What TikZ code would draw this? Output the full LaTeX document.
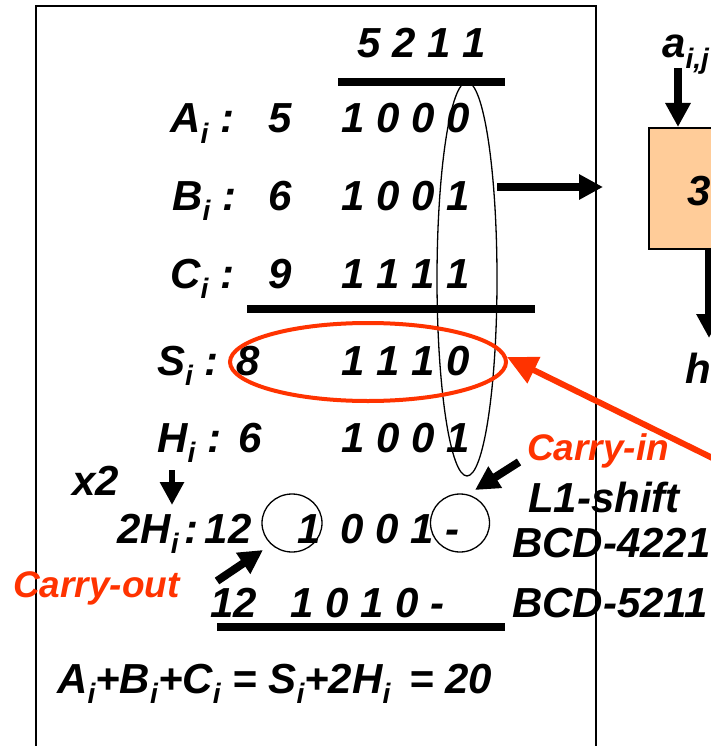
\documentclass[tikz,border=0pt]{standalone}
\usepackage{fontspec}
\setmainfont{Liberation Sans}
\usetikzlibrary{arrows.meta,shapes.geometric}
\definecolor{redo}{RGB}{255,51,0}
\definecolor{peach}{RGB}{255,204,153}
\newcommand\subs[1]{\raisebox{-0.24em}{\scalebox{0.67}{#1}}}
\begin{document}
\begin{tikzpicture}[x=1pt,y=-1pt,
  txt/.style={anchor=base west,inner sep=0pt,font=\fontsize{42}{46}\selectfont\bfseries\itshape},
  eqtxt/.style={txt,font=\fontsize{42}{46}\selectfont\bfseries\itshape},
  redtxt/.style={txt,text=redo,font=\fontsize{37}{40}\selectfont\bfseries\itshape},
  rule/.style={line width=8pt},
  bigarrow/.style={line width=8pt,-{Triangle[width=24pt,length=24pt]}},
  smallarrow/.style={line width=6pt,-{Triangle[width=23pt,length=23pt]}},
  redarrow/.style={draw=redo,line width=6pt,-{Triangle[width=28pt,length=30pt]},redo},
  thinell/.style={draw,ellipse,line width=1.3pt,inner sep=0pt},
]
\clip (0,0) rectangle (711,746);
\fill[white] (0,0) rectangle (711,746);
% frame
\draw[line width=2pt] (36,6) rectangle (596,780);
% right box
\node[draw,line width=2pt,fill=peach,minimum width=90pt,minimum height=121pt,inner sep=0pt,anchor=north west] (box) at (648,127) {};
\node[txt] (three) at (687,205) {3};
\node[txt] (aij) at (662,58) {a\subs{i,j}};
\node[txt] (h) at (685,383) {h};
\coordinate (aTop) at (678,68);
\coordinate (aTip) at (678,127);
\draw[bigarrow] (aTop) -- (aTip);
\coordinate (bxTop) at (709,248);
\coordinate (bxTip) at (709,338);
\draw[bigarrow] (bxTop) -- (bxTip);
% top weights
\node[txt] (w) at (357,58) {5 2 1 1};
\draw[rule] (338,82) -- (505,82);
% rows
\node[txt] (Al) at (170,133) {A\subs{i} :};
\node[txt] (Ad) at (268,133) {5};
\node[txt] (Ab) at (341,133) {1 0 0 0};
\node[txt] (Bl) at (172,210) {B\subs{i} :};
\node[txt] (Bd) at (268,210) {6};
\node[txt] (Bb) at (341,210) {1 0 0 1};
\node[txt] (Cl) at (170,288) {C\subs{i} :};
\node[txt] (Cd) at (268,288) {9};
\node[txt] (Cb) at (341,288) {1 1 1 1};
\draw[rule] (247,309) -- (535,309);
\node[txt] (Sl) at (157,375) {S\subs{i} :};
\node[txt] (Sd) at (236,375) {8};
\node[txt] (Sb) at (341,375) {1 1 1 0};
\node[txt] (Hl) at (157,452) {H\subs{i} :};
\node[txt] (Hd) at (238,452) {6};
\node[txt] (Hb) at (341,452) {1 0 0 1};
\node[txt] (x2) at (72,495) {x2};
\coordinate (x2a) at (172,470);
\coordinate (x2b) at (172,505);
\draw[smallarrow] (x2a) -- (x2b);
\node[txt] (Hl2) at (117,543) {2H\subs{i}\hspace{6pt}:\hspace{6pt}12};
\node[txt] (H2c) at (297,543) {1};
\node[txt] (H2b) at (340,543) {0 0 1 -};
\node[txt] (R12) at (210,617) {12};
\node[txt] (Rb) at (290,617) {1 0 1 0 -};
\draw[rule] (217,627) -- (505,627);
\node[eqtxt] (eq) at (57,693) {A\subs{i}+B\subs{i}+C\subs{i} = S\subs{i}+2H\subs{i} \,= 20};
% ellipses and circles
\node[thinell,minimum width=60pt,minimum height=394pt] (col) at (467,279) {};
\node[draw=redo,ellipse,line width=4pt,inner sep=0pt,minimum width=276pt,minimum height=78pt] (sum) at (368,362) {};
\node[thinell,minimum width=60pt,minimum height=58pt] (cout) at (292,523) {};
\node[thinell,minimum width=59pt,minimum height=58pt] (cin) at (460,523) {};
% right labels
\node[redtxt] (cinl) at (527,460) {Carry-in};
\node[txt] (l1) at (528,512) {L1-shift};
\node[txt] (b4) at (512,557) {BCD-4221};
\node[txt] (b5) at (512,617) {BCD-5211};
\node[redtxt] (coutl) at (13,597) {Carry-out};
% arrows
\coordinate (ciS) at (519,462);
\coordinate (ciT) at (475,490);
\draw[bigarrow] (ciS) -- (ciT);
\coordinate (coS) at (217,581);
\coordinate (coT) at (263,550);
\draw[bigarrow] (coS) -- (coT);
\coordinate (bS) at (497,187);
\coordinate (bT) at (603,187);
\draw[bigarrow] (bS) -- (bT);
\coordinate (rS) at (745,474);
\coordinate (rT) at (507,357);
\draw[redarrow] (rS) -- (rT);
\end{tikzpicture}
\end{document}
